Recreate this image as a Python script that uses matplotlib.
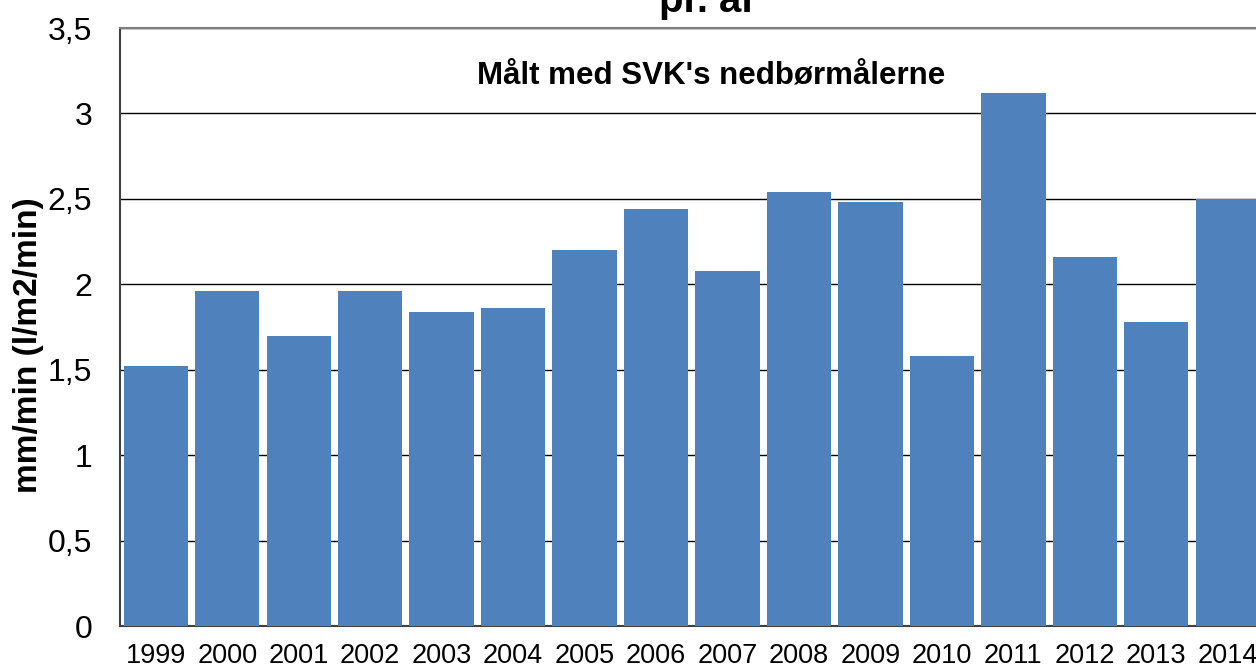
import matplotlib.pyplot as plt
import numpy as np

# annual maximum rain intensity, mm/min
years = ['1999', '2000', '2001', '2002', '2003', '2004', '2005', '2006',
         '2007', '2008', '2009', '2010', '2011', '2012', '2013', '2014']
intensity = [1.52, 1.96, 1.70, 1.96, 1.84, 1.86, 2.20, 2.44,
             2.08, 2.54, 2.48, 1.58, 3.12, 2.16, 1.78, 2.50]
yticks = [0, 0.5, 1, 1.5, 2, 2.5, 3, 3.5]
ytick_labels = ['0', '0,5', '1', '1,5', '2', '2,5', '3', '3,5']

plt.rcParams['font.family'] = ['Liberation Sans', 'DejaVu Sans']

fig = plt.figure(figsize=(12.56, 6.68), dpi=100)
ax = fig.add_axes([120 / 1256, 42 / 668, 1143.5 / 1256, 598 / 668])

x = np.arange(len(years))
ax.bar(x, intensity, width=0.9, color='#4F81BD', edgecolor='none', zorder=3)

ax.set_xlim(-0.5, len(years) - 0.5)
ax.set_ylim(0, 3.5)
ax.set_yticks(yticks)
ax.set_yticklabels(ytick_labels)
ax.set_xticks(x)
ax.set_xticklabels(years)
ax.tick_params(axis='y', length=0, pad=20, labelsize=23)
ax.tick_params(axis='x', length=0, pad=12, labelsize=19.5)

ax.grid(axis='y', color='black', linewidth=1, zorder=1)
for side in ['left', 'bottom', 'top']:
    ax.spines[side].set_color('#7f7f7f')
    ax.spines[side].set_linewidth(1.5)
ax.spines['left'].set_color('#404040')
ax.spines['bottom'].set_color('#404040')
ax.spines['right'].set_visible(False)

ax.set_ylabel('mm/min (l/m2/min)', fontsize=24, fontweight='bold')
ax.yaxis.set_label_coords(-76 / 1143.5, 0.47)

fig.text(708 / 1256, 1 - 12 / 668, 'pr. år', ha='center', va='baseline',
         fontsize=29, fontweight='bold')
ax.text(0.517, 0.92, "Målt med SVK's nedbørmålerne", transform=ax.transAxes,
        ha='center', va='center', fontsize=22.5, fontweight='bold')

fig.savefig('out.png', dpi=100)
